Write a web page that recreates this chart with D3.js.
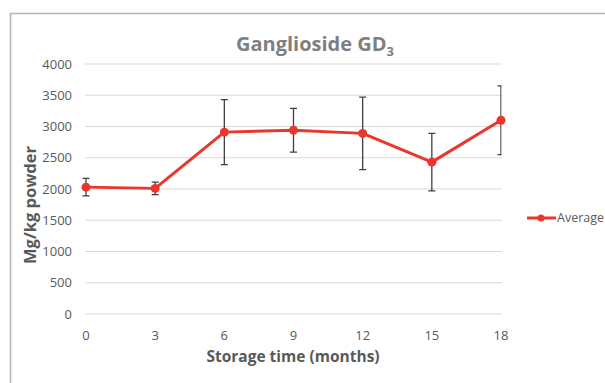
<!DOCTYPE html>
<html>
<head>
<meta charset="utf-8">
<script src="https://cdn.jsdelivr.net/npm/d3@7"></script>
<style>
  body { margin: 0; background: #fff; }
  svg { display: block; }
  text { font-family: "Open Sans", "Liberation Sans", sans-serif; }
</style>
</head>
<body>
<svg id="chart" width="605" height="383"></svg>
<script>
// data
const months = [0, 3, 6, 9, 12, 15, 18];
const average = [2030, 2010, 2910, 2940, 2890, 2430, 3100];
const errorBars = [140, 100, 520, 350, 580, 460, 550];
const yTicks = [0, 500, 1000, 1500, 2000, 2500, 3000, 3500, 4000];

const svg = d3.select("#chart");
const margin = { left: 86, right: 501, top: 64, bottom: 314 };

// chart frame
svg.append("path")
  .attr("d", "M10.5,383 V13.5 H605")
  .attr("fill", "none")
  .attr("stroke", "#b4b4b4")
  .attr("stroke-width", 1.5);

const x = d3.scalePoint().domain(months).range([margin.left, margin.right]);
const y = d3.scaleLinear().domain([0, 4000]).range([margin.bottom, margin.top]);

// gridlines
svg.append("g")
  .selectAll("line")
  .data(yTicks)
  .join("line")
  .attr("x1", margin.left - 1)
  .attr("x2", margin.right + 1)
  .attr("y1", d => y(d))
  .attr("y2", d => y(d))
  .attr("stroke", "#d9d9d9")
  .attr("stroke-width", 1);

// y tick labels
svg.append("g")
  .selectAll("text")
  .data(yTicks)
  .join("text")
  .attr("x", 72)
  .attr("y", d => y(d))
  .attr("dy", "0.35em")
  .attr("text-anchor", "end")
  .attr("font-size", 13)
  .attr("fill", "#595959")
  .text(d => d);

// x tick labels
svg.append("g")
  .selectAll("text")
  .data(months)
  .join("text")
  .attr("x", d => x(d))
  .attr("y", 335)
  .attr("dy", "0.35em")
  .attr("text-anchor", "middle")
  .attr("font-size", 13)
  .attr("fill", "#595959")
  .text(d => d);

// titles
const title = svg.append("text")
  .attr("x", 315)
  .attr("y", 51)
  .attr("text-anchor", "middle")
  .attr("font-size", 20)
  .attr("font-weight", "bold")
  .attr("fill", "#7f7f7f");
title.append("tspan").text("Ganglioside GD");
title.append("tspan").attr("font-size", 13).attr("dy", 5).text("3");

svg.append("text")
  .attr("x", 293)
  .attr("y", 362)
  .attr("text-anchor", "middle")
  .attr("font-size", 15.5)
  .attr("font-weight", "bold")
  .attr("fill", "#595959")
  .text("Storage time (months)");

svg.append("text")
  .attr("transform", "translate(36,205) rotate(-90)")
  .attr("text-anchor", "middle")
  .attr("font-size", 16.5)
  .attr("font-weight", "bold")
  .attr("fill", "#595959")
  .text("Mg/kg powder");

// error bars, clipped to the plot area
svg.append("clipPath").attr("id", "plotClip")
  .append("rect")
  .attr("x", 0).attr("y", 0)
  .attr("width", margin.right + 0.5).attr("height", 383);

const series = months.map((m, i) => ({ m, v: average[i], e: errorBars[i] }));

const eb = svg.append("g")
  .attr("clip-path", "url(#plotClip)")
  .attr("stroke", "#404040")
  .attr("stroke-width", 1.3);

eb.selectAll("line.stem")
  .data(series)
  .join("line")
  .attr("class", "stem")
  .attr("x1", d => x(d.m)).attr("x2", d => x(d.m))
  .attr("y1", d => y(d.v + d.e)).attr("y2", d => y(d.v - d.e));

eb.selectAll("line.capTop")
  .data(series)
  .join("line")
  .attr("class", "capTop")
  .attr("x1", d => x(d.m) - 3.5).attr("x2", d => x(d.m) + 3.5)
  .attr("y1", d => y(d.v + d.e)).attr("y2", d => y(d.v + d.e));

eb.selectAll("line.capBot")
  .data(series)
  .join("line")
  .attr("class", "capBot")
  .attr("x1", d => x(d.m) - 3.5).attr("x2", d => x(d.m) + 3.5)
  .attr("y1", d => y(d.v - d.e)).attr("y2", d => y(d.v - d.e));

// line + markers
const red = "#e8372c";
svg.append("path")
  .datum(series)
  .attr("fill", "none")
  .attr("stroke", red)
  .attr("stroke-width", 3)
  .attr("stroke-linejoin", "round")
  .attr("d", d3.line().x(d => x(d.m)).y(d => y(d.v)));

svg.append("g")
  .selectAll("circle")
  .data(series)
  .join("circle")
  .attr("cx", d => x(d.m))
  .attr("cy", d => y(d.v))
  .attr("r", 4.5)
  .attr("fill", red);

// legend
const lg = svg.append("g").attr("transform", "translate(527,218)");
lg.append("line")
  .attr("x1", 0).attr("x2", 29)
  .attr("stroke", red).attr("stroke-width", 3);
lg.append("circle").attr("cx", 14).attr("r", 3.5).attr("fill", red);
lg.append("text")
  .attr("x", 30)
  .attr("dy", "0.35em")
  .attr("font-size", 12.5)
  .attr("fill", "#595959")
  .text("Average");
</script>
</body>
</html>
